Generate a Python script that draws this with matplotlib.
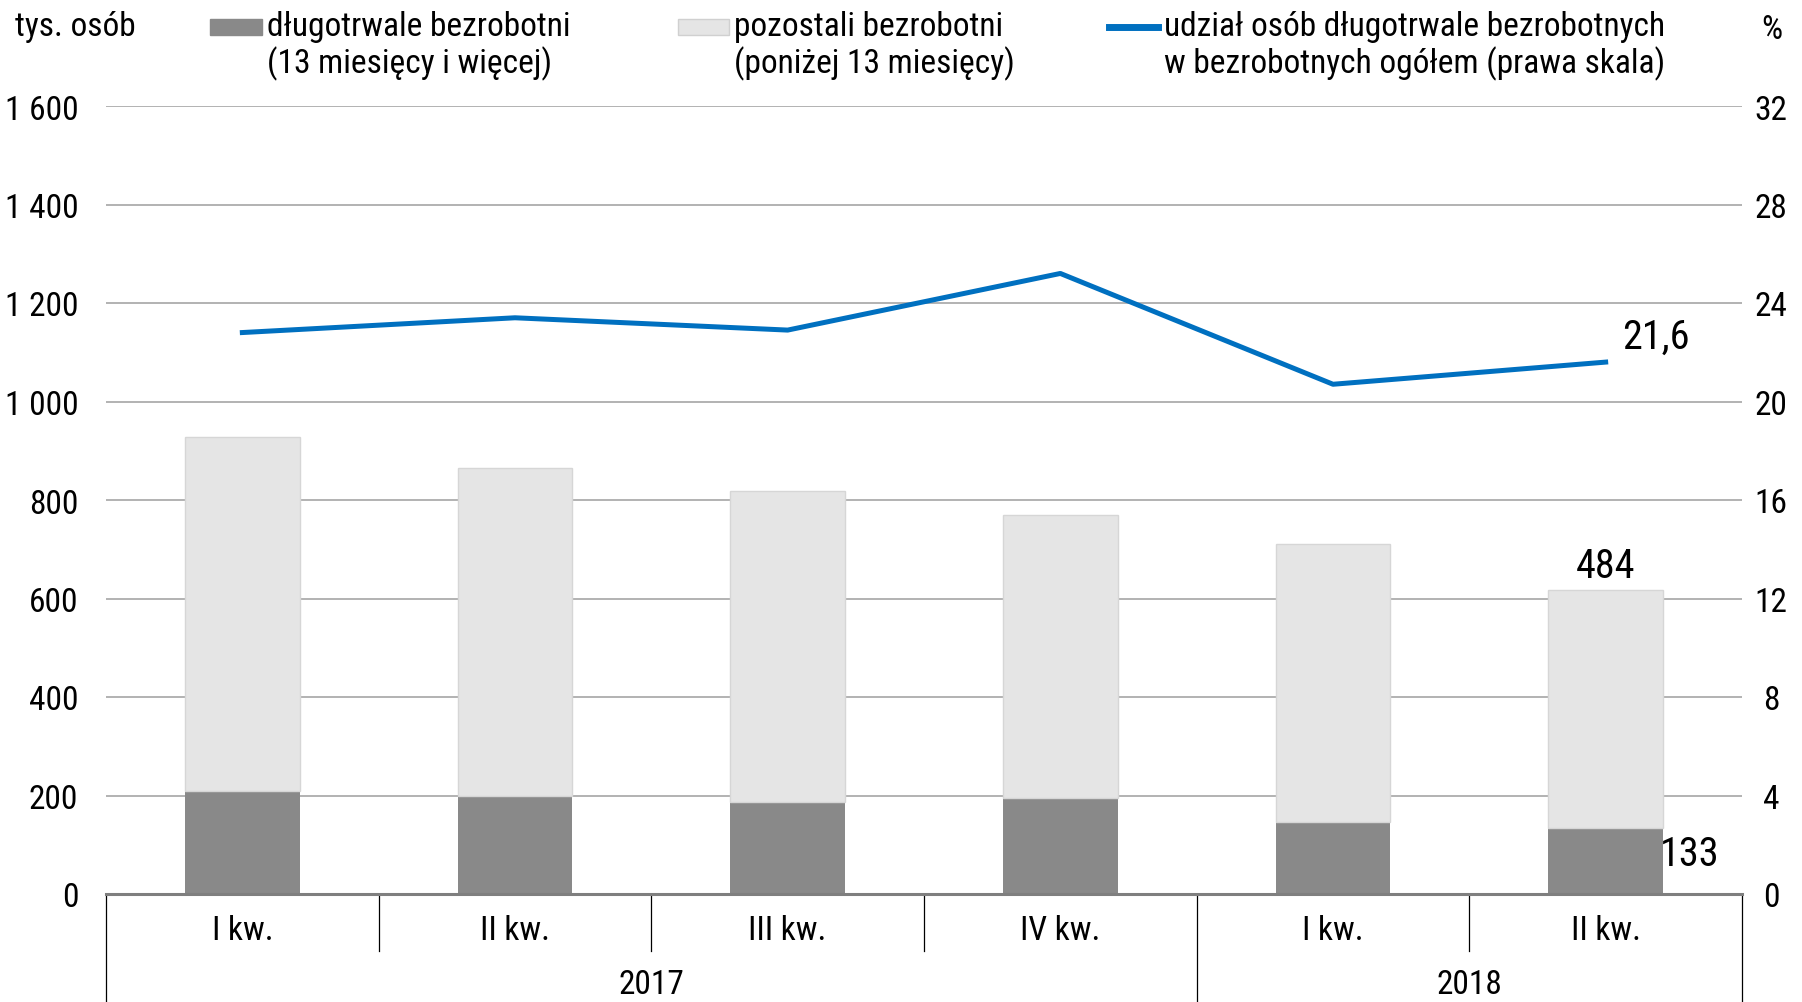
import matplotlib
matplotlib.use("Agg")
import matplotlib.pyplot as plt
from matplotlib import font_manager
import matplotlib.transforms as mtransforms

# pick a narrow-ish font if available
available = {f.name for f in font_manager.fontManager.ttflist}
FONT = "DejaVu Sans"
for name in ["Liberation Sans Narrow", "Roboto Condensed", "Open Sans", "Lato", "Roboto"]:
    if name in available:
        FONT = name
        break
plt.rcParams["font.family"] = [FONT, "DejaVu Sans"]

quarters = ["I kw.", "II kw.", "III kw.", "IV kw.", "I kw.", "II kw."]
years = ["2017", "2018"]
year_spans = [(0, 3), (4, 5)]  # first and last quarter index per year
long_term = [210, 200, 187, 194, 147, 133]        # tys. osób, 13 miesięcy i więcej
short_term = [718, 665, 632, 576, 564, 484]       # tys. osób, poniżej 13 miesięcy
share = [22.8, 23.4, 22.9, 25.2, 20.7, 21.6]      # %, prawa skala

FS = 24
W, H = 1802, 1003
fig = plt.figure(figsize=(W / 100, H / 100), dpi=100)
left, right, top, bottom = 106, 1742, 107, 895
ax = fig.add_axes([left / W, 1 - bottom / H, (right - left) / W, (bottom - top) / H])
ax2 = ax.twinx()

x = list(range(len(quarters)))
ax.bar(x, long_term, width=0.42, color="#898989", zorder=2)
ax.bar(x, short_term, width=0.42, bottom=long_term, color="#e5e5e5",
       edgecolor="#d6d6d6", linewidth=1, zorder=2)

ax.set_xlim(-0.5, len(quarters) - 0.5)
ax.set_ylim(0, 1600)
ax.set_yticks(range(0, 1601, 200))
ax.set_yticklabels([f"{v:,}".replace(",", " ") for v in range(0, 1601, 200)])
ax.grid(axis="y", color="#a6a6a6", linewidth=1.2, zorder=0)
ax.set_axisbelow(True)

ax2.plot(x, share, color="#0070c0", linewidth=3.6, zorder=3)
ax2.set_ylim(0, 32)
ax2.set_yticks(range(0, 33, 4))

for a in (ax, ax2):
    for s in a.spines.values():
        s.set_visible(False)
    a.tick_params(length=0, labelsize=FS)
ax.tick_params(axis="y", pad=20)
ax2.tick_params(axis="y", pad=21)
for lab in ax2.get_yticklabels():
    lab.set_horizontalalignment("center")
ax.set_xticks([])
ax.axhline(0, color="#7f7f7f", linewidth=2.2, zorder=4, clip_on=False)

# category axis with separators
trans = mtransforms.blended_transform_factory(ax.transData, ax.transAxes)
inner_depth = -(952 - bottom) / (bottom - top)
full_depth = -(H - bottom + 5) / (bottom - top)
year_edges = {year_spans[0][0] - 0.5, year_spans[-1][1] + 0.5}
for s0, s1 in year_spans:
    year_edges.add(s1 + 0.5)
for k in range(len(quarters) + 1):
    xb = k - 0.5
    depth = full_depth if xb in year_edges else inner_depth
    ax.plot([xb, xb], [0, depth], color="black", linewidth=0.9,
            transform=trans, clip_on=False)
for i, q in enumerate(quarters):
    ax.text(i, -(931 - bottom) / (bottom - top), q, transform=trans,
            ha="center", va="center", fontsize=FS)
for yr, (s0, s1) in zip(years, year_spans):
    ax.text((s0 + s1) / 2, -(985 - bottom) / (bottom - top), yr, transform=trans,
            ha="center", va="center", fontsize=FS)

# annotations on last point
ax2.annotate("21,6", (x[-1], share[-1]), xytext=(12, 18.5), textcoords="offset points",
             ha="left", va="center", fontsize=29)
ax.annotate(str(short_term[-1]), (x[-1], long_term[-1] + short_term[-1]),
            xytext=(0, 18), textcoords="offset points", ha="center", va="center", fontsize=29)
ax.annotate(str(long_term[-1]), (x[-1] + 0.21, long_term[-1]), xytext=(-2, -18),
            textcoords="offset points", ha="left", va="center", fontsize=29)

# header texts and legend
fig.text(15 / W, 1 - 27 / H, "tys. osób", ha="left", va="center", fontsize=FS)
fig.text(1772 / W, 1 - 30 / H, "%", ha="center", va="center", fontsize=FS)

def legend_patch(x0, x1, color, edge):
    fig.patches.append(plt.Rectangle((x0 / W, 1 - 36 / H), (x1 - x0) / W, 16 / H,
                                     facecolor=color, edgecolor=edge, linewidth=1,
                                     transform=fig.transFigure, figure=fig))

legend_patch(210, 262, "#898989", "#898989")
fig.text(267 / W, 1 - 27 / H, "długotrwale bezrobotni", ha="left", va="center", fontsize=FS)
fig.text(267 / W, 1 - 64 / H, "(13 miesięcy i więcej)", ha="left", va="center", fontsize=FS)
legend_patch(678, 729, "#e5e5e5", "#d0d0d0")
fig.text(734 / W, 1 - 27 / H, "pozostali bezrobotni", ha="left", va="center", fontsize=FS)
fig.text(734 / W, 1 - 64 / H, "(poniżej 13 miesięcy)", ha="left", va="center", fontsize=FS)
fig.lines.append(plt.Line2D([1109 / W, 1158 / W], [1 - 28 / H, 1 - 28 / H], color="#0070c0",
                            linewidth=5, transform=fig.transFigure, figure=fig))
fig.text(1164 / W, 1 - 27 / H, "udział osób długotrwale bezrobotnych", ha="left", va="center", fontsize=FS)
fig.text(1164 / W, 1 - 64 / H, "w bezrobotnych ogółem (prawa skala)", ha="left", va="center", fontsize=FS)

fig.savefig("out.png", dpi=100)
